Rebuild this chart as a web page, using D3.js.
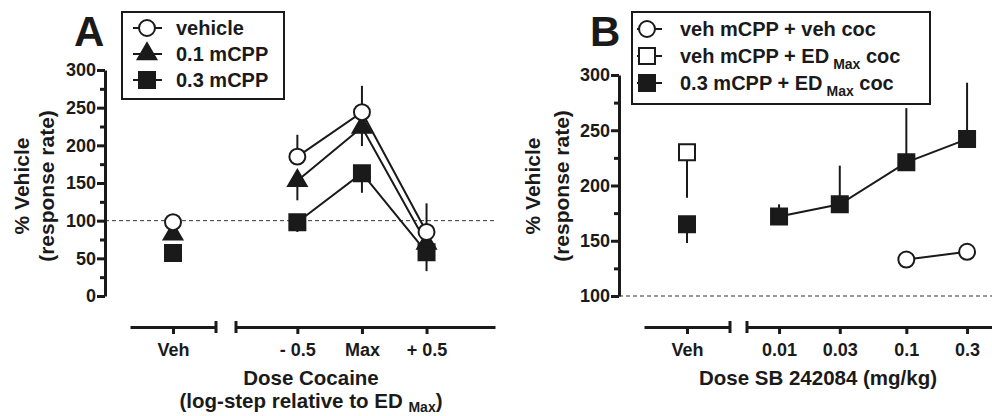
<!DOCTYPE html>
<html>
<head>
<meta charset="utf-8">
<script src="https://cdn.jsdelivr.net/npm/d3@7"></script>
<style>
  body { margin: 0; background: #fff; }
  svg { display: block; font-family: "Liberation Sans", Arial, sans-serif; font-weight: bold; }
  .axis .domain, .axis line { stroke: #1a1a1a; stroke-width: 3; }
  .axis text { fill: #1a1a1a; font-size: 18px; font-weight: bold; }
</style>
</head>
<body>
<script>
"use strict"

// Panel A: dose of cocaine, log-step relative to ED max
const doseStepsA = [-0.5, 0, 0.5]
const doseLabelsA = ["- 0.5", "Max", "+ 0.5"]
const seriesA = [
  { name : "0.3 mCPP", symbol : "square",   fill : "#1a1a1a", dir : -1, veh : 57, values : [98, 163, 58],  errs : [13, 26, 25] },
  { name : "0.1 mCPP", symbol : "triangle", fill : "#1a1a1a", dir : -1, veh : 82, values : [153, 224, 70], errs : [26, 25, 0] },
  { name : "vehicle",  symbol : "circle",   fill : "#fff",    dir : 1,  veh : 98, values : [185, 244, 85], errs : [29, 35, 38] },
]
const legendOrderA = ["vehicle", "0.1 mCPP", "0.3 mCPP"]

// Panel B: dose SB 242084 (mg/kg)
const dosesB = [0.01, 0.03, 0.1, 0.3]
const doseLabelsB = ["0.01", "0.03", "0.1", "0.3"]
const filledB = { veh : 165, vehErr : 17, values : [172, 183, 221, 242], errs : [11, 35, 49, 51] }
const openSquareB = { veh : 230, vehErr : 41 }
const openCircleB = { doses : [0.1, 0.3], values : [133, 140] }
const legendB = [
  { symbol : "circle", fill : "#fff",    text : "veh mCPP + veh coc" },
  { symbol : "square", fill : "#fff",    text : "veh mCPP + ED", sub : "Max", tail : " coc" },
  { symbol : "square", fill : "#1a1a1a", text : "0.3 mCPP + ED", sub : "Max", tail : " coc" },
]

const ticksA = [0, 50, 100, 150, 200, 250, 300]
const minorA = d3.range(25, 300, 50)
const ticksB = [100, 150, 200, 250, 300]
const minorB = d3.range(125, 300, 50)

const ink = "#1a1a1a"
const symbolSize = { circle : 200, square : 256, triangle : 150 }
const symbolType = { circle : d3.symbolCircle, square : d3.symbolSquare, triangle : d3.symbolTriangle }
const sym = s => d3.symbol().type(symbolType[s]).size(symbolSize[s])()

const svg = d3.select("body").append("svg").attr("width", 992).attr("height", 416)

const drawMarker = (g, x, y, s, fill) => {
  g.append("path").attr("d", sym(s))
    .attr("transform", `translate(${x},${y})`)
    .attr("fill", fill).attr("stroke", ink).attr("stroke-width", 2)
}

const errBar = (g, x, y0, y1) => {
  g.append("line").attr("x1", x).attr("x2", x).attr("y1", y0).attr("y2", y1)
    .attr("stroke", ink).attr("stroke-width", 2)
}

const yAxis = (g, x, scale, ticks, minor) => {
  g.append("g").attr("class", "axis").attr("transform", `translate(${x},0)`)
    .call(d3.axisLeft(scale).tickValues(ticks).tickSize(8).tickPadding(1).tickSizeOuter(0))
  g.append("g").attr("class", "axis").attr("transform", `translate(${x},0)`)
    .call(d3.axisLeft(scale).tickValues(minor).tickSize(5).tickFormat("").tickSizeOuter(0))
    .select(".domain").remove()
}

const yTitle = (g, x1, x2, y) => {
  g.append("text").attr("transform", `translate(${x1},${y}) rotate(-90)`).attr("dy", "0.35em")
    .attr("text-anchor", "middle").attr("font-size", 21).attr("fill", ink).text("% Vehicle")
  g.append("text").attr("transform", `translate(${x2},${y}) rotate(-90)`).attr("dy", "0.35em")
    .attr("text-anchor", "middle").attr("font-size", 21).attr("fill", ink).text("(response rate)")
}

const xSegment = (g, y, scale, values, labels, cap) => {
  const axis = g.append("g").attr("class", "axis").attr("transform", `translate(0,${y})`)
    .call(d3.axisBottom(scale).tickValues(values).tickFormat((d, i) => labels[i]).tickSize(7).tickPadding(9).tickSizeOuter(0))
  const [r0, r1] = scale.range()
  const cx = cap === "right" ? r1 : r0
  axis.append("line").attr("x1", cx).attr("x2", cx).attr("y1", -6).attr("y2", 6)
}

const dashed = (g, x0, x1, y) => {
  g.append("line").attr("x1", x0).attr("x2", x1).attr("y1", y).attr("y2", y)
    .attr("stroke", "#333").attr("stroke-width", 1).attr("stroke-dasharray", "4,3")
}

const legendRow = (g, x, y, s, fill, lx0, lx1) => {
  g.append("line").attr("x1", lx0).attr("x2", lx1).attr("y1", y).attr("y2", y)
    .attr("stroke", ink).attr("stroke-width", 2)
  drawMarker(g, x, y, s, fill)
}

// ---------- Panel A ----------
const gA = svg.append("g")
const yA = d3.scaleLinear().domain([0, 300]).range([296, 70])
const xVehA = d3.scalePoint().domain(["Veh"]).range([130, 216]).padding(0.5)
const xA = d3.scaleLinear().domain([-0.975, 1.03]).range([236, 495])

dashed(gA, 105, 496, yA(100))
yAxis(gA, 105, yA, ticksA, minorA)
xSegment(gA, 327, xVehA, ["Veh"], ["Veh"], "right")
xSegment(gA, 327, xA, doseStepsA, doseLabelsA, "left")
yTitle(gA, 22, 47, 186)

gA.append("text").attr("x", 311).attr("y", 385).attr("text-anchor", "middle")
  .attr("font-size", 20.5).attr("fill", ink).text("Dose Cocaine")
const tA = gA.append("text").attr("x", 311).attr("y", 408).attr("text-anchor", "middle")
  .attr("font-size", 20.5).attr("fill", ink)
tA.append("tspan").text("(log-step relative to ED ")
tA.append("tspan").attr("font-size", 14).attr("dy", 4).text("Max")
tA.append("tspan").attr("dy", -4).text(")")

gA.append("text").attr("x", 74).attr("y", 46).attr("font-size", 42).attr("fill", ink).text("A")

const lineA = d3.line().x(d => xA(d[0])).y(d => yA(d[1]))
seriesA.forEach(s => {
  gA.append("path").attr("d", lineA(doseStepsA.map((d, i) => [d, s.values[i]])))
    .attr("fill", "none").attr("stroke", ink).attr("stroke-width", 2)
  doseStepsA.forEach((d, i) => {
    if (s.errs[i]) errBar(gA, xA(d), yA(s.values[i]), yA(s.values[i] + s.dir * s.errs[i]))
  })
})
seriesA.forEach(s => {
  drawMarker(gA, xVehA("Veh"), yA(s.veh), s.symbol, s.fill)
  doseStepsA.forEach((d, i) => drawMarker(gA, xA(d), yA(s.values[i]), s.symbol, s.fill))
})

// legend A
gA.append("rect").attr("x", 122).attr("y", 12).attr("width", 162).attr("height", 87)
  .attr("fill", "#fff").attr("stroke", ink).attr("stroke-width", 2)
legendOrderA.forEach((name, i) => {
  const s = seriesA.find(d => d.name === name)
  const y = 28 + i * 26
  legendRow(gA, 147, y, s.symbol, s.fill, 133, 162)
  gA.append("text").attr("x", 176).attr("y", y).attr("dy", "0.35em")
    .attr("font-size", 20).attr("fill", ink).text(name)
})

// ---------- Panel B ----------
const gB = svg.append("g")
const yB = d3.scaleLinear().domain([100, 300]).range([296, 75])
const xVehB = d3.scalePoint().domain(["Veh"]).range([644, 730]).padding(0.5)
const xB = d3.scaleLog().domain([0.0056, 0.471]).range([747, 992])

dashed(gB, 619, 992, yB(100))
yAxis(gB, 619, yB, ticksB, minorB)
xSegment(gB, 327, xVehB, ["Veh"], ["Veh"], "right")
xSegment(gB, 327, xB, dosesB, doseLabelsB, "left")
yTitle(gB, 533, 562, 186)

gB.append("text").attr("x", 818).attr("y", 385).attr("text-anchor", "middle")
  .attr("font-size", 20.5).attr("fill", ink).text("Dose SB 242084 (mg/kg)")

gB.append("text").attr("x", 590).attr("y", 46).attr("font-size", 42).attr("fill", ink).text("B")

const lineB = d3.line().x(d => xB(d[0])).y(d => yB(d[1]))
gB.append("path").attr("d", lineB(dosesB.map((d, i) => [d, filledB.values[i]])))
  .attr("fill", "none").attr("stroke", ink).attr("stroke-width", 2)
gB.append("path").attr("d", lineB(openCircleB.doses.map((d, i) => [d, openCircleB.values[i]])))
  .attr("fill", "none").attr("stroke", ink).attr("stroke-width", 2)
dosesB.forEach((d, i) => errBar(gB, xB(d), yB(filledB.values[i]), yB(filledB.values[i] + filledB.errs[i])))
errBar(gB, xVehB("Veh"), yB(openSquareB.veh), yB(openSquareB.veh - openSquareB.vehErr))
errBar(gB, xVehB("Veh"), yB(filledB.veh), yB(filledB.veh - filledB.vehErr))

drawMarker(gB, xVehB("Veh"), yB(openSquareB.veh), "square", "#fff")
drawMarker(gB, xVehB("Veh"), yB(filledB.veh), "square", ink)
dosesB.forEach((d, i) => drawMarker(gB, xB(d), yB(filledB.values[i]), "square", ink))
openCircleB.doses.forEach((d, i) => drawMarker(gB, xB(d), yB(openCircleB.values[i]), "circle", "#fff"))

// legend B
gB.append("rect").attr("x", 632).attr("y", 12).attr("width", 298).attr("height", 92)
  .attr("fill", "#fff").attr("stroke", ink).attr("stroke-width", 2)
legendB.forEach((d, i) => {
  const y = 29 + i * 27
  legendRow(gB, 647, y, d.symbol, d.fill, 637, 662)
  const t = gB.append("text").attr("x", 680).attr("y", y).attr("dy", "0.35em")
    .attr("font-size", 20).attr("fill", ink)
  t.append("tspan").text(d.text)
  if (d.sub) {
    t.append("tspan").attr("font-size", 14).attr("dx", 4).attr("dy", 6).text(d.sub)
    t.append("tspan").attr("dy", -6).text(d.tail)
  }
})
</script>
</body>
</html>
